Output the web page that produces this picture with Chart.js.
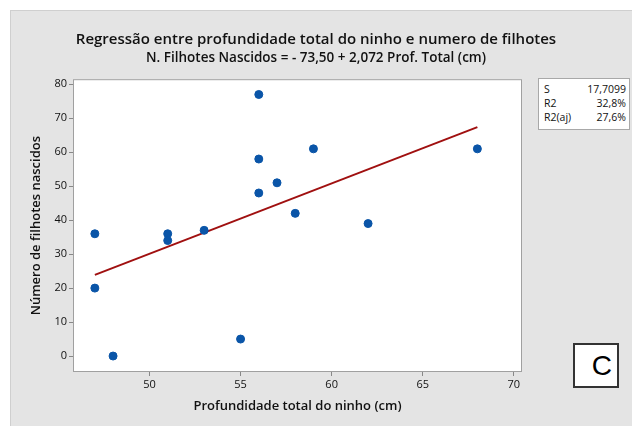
<!DOCTYPE html>
<html lang="pt">
<head>
    <meta charset="UTF-8">
    <title>Regressão profundidade x filhotes</title>
    <style>
        body {
            margin: 0;
            background: #ffffff;
            font-family: "Open Sans", "Noto Sans", sans-serif;
        }

        .panel {
            position: absolute;
            left: 10px;
            top: 10px;
            width: 622px;
            height: 416px;
            background: #e4e4e4;
            border-top: 1px solid #cfcfcf;
            border-left: 1px solid #cfcfcf;
            box-sizing: border-box;
        }

        #chart {
            position: absolute;
            left: 0;
            top: 0;
        }

        .stats {
            position: absolute;
            left: 538px;
            top: 78px;
            width: 92px;
            height: 52px;
            background: #fff;
            border: 1px solid #a8a8a8;
            box-sizing: border-box;
            font-size: 10.5px;
            color: #111;
            padding: 3px 3px 0 5px;
        }

        .stats table {
            width: 100%;
            border-collapse: collapse;
        }

        .stats td {
            padding: 0;
            line-height: 14px;
        }

        .stats td.v {
            text-align: right;
        }

        .letter {
            position: absolute;
            left: 573px;
            top: 343px;
            width: 46px;
            height: 45px;
            background: #fff;
            border: 2px solid #333;
            box-sizing: border-box;
            font-family: "Liberation Sans", Arial, sans-serif;
            font-size: 28px;
            text-align: right;
            padding-right: 5px;
            line-height: 41px;
        }
    </style>
</head>
<body>
    <div class="panel"></div>
    <canvas id="chart" width="632" height="426"></canvas>

    <div class="stats">
        <table>
            <tr><td>S</td><td class="v">17,7099</td></tr>
            <tr><td>R2</td><td class="v">32,8%</td></tr>
            <tr><td>R2(aj)</td><td class="v">27,6%</td></tr>
        </table>
    </div>
    <div class="letter">C</div>

    <script src="https://cdn.jsdelivr.net/npm/chart.js"></script>
    <script>
        // observed points
        const profundidade = [47, 47, 48, 51, 51, 53, 55, 56, 56, 56, 57, 58, 59, 62, 68];
        const filhotes = [36, 20, 0, 36, 34, 37, 5, 77, 58, 48, 51, 42, 61, 39, 61];

        // fitted line ends
        const fitX = [47, 68];
        const fitY = [23.9, 67.4];

        const xTicks = [50, 55, 60, 65, 70];
        const yTicks = [0, 10, 20, 30, 40, 50, 60, 70, 80];

        const fontFamily = '"Open Sans", "Noto Sans", sans-serif';

        // white plot area + frame
        const plotFrame = {
            id: 'plotFrame',
            beforeDatasetsDraw(chart) {
                const a = chart.chartArea;
                const ctx = chart.ctx;
                ctx.save();
                ctx.fillStyle = '#ffffff';
                ctx.fillRect(a.left, a.top, a.right - a.left, a.bottom - a.top);
                ctx.strokeStyle = '#a0a0a0';
                ctx.lineWidth = 1;
                ctx.strokeRect(a.left + 0.5, a.top + 0.5, a.right - a.left - 1, a.bottom - a.top - 1);
                ctx.restore();
            }
        };

        const ctx = document.getElementById('chart').getContext('2d');
        new Chart(ctx, {
            type: 'scatter',
            data: {
                datasets: [{
                    label: 'Ajuste',
                    type: 'line',
                    data: fitX.map((x, i) => ({ x: x, y: fitY[i] })),
                    borderColor: '#a01010',
                    borderWidth: 2,
                    pointRadius: 0,
                    fill: false,
                    order: 2
                }, {
                    label: 'Observado',
                    data: profundidade.map((x, i) => ({ x: x, y: filhotes[i] })),
                    backgroundColor: '#0a55a8',
                    borderColor: '#0a55a8',
                    pointRadius: 4,
                    order: 1
                }]
            },
            options: {
                responsive: false,
                animation: false,
                layout: {
                    padding: { top: 1, left: 0, right: 0, bottom: 0 }
                },
                plugins: {
                    legend: { display: false },
                    tooltip: { enabled: false },
                    title: {
                        display: true,
                        text: 'Regressão entre profundidade total do ninho e numero de filhotes',
                        color: '#111',
                        font: { family: fontFamily, size: 15, weight: '600' },
                        padding: { top: 30, bottom: 1 }
                    },
                    subtitle: {
                        display: true,
                        text: 'N. Filhotes Nascidos = - 73,50 + 2,072 Prof. Total (cm)',
                        color: '#111',
                        font: { family: fontFamily, size: 13.5, weight: '600' },
                        padding: { top: 0, bottom: 13 }
                    }
                },
                scales: {
                    x: {
                        type: 'linear',
                        min: 45.8,
                        max: 70.45,
                        afterBuildTicks(scale) {
                            scale.ticks = xTicks.map(v => ({ value: v }));
                        },
                        afterFit(scale) {
                            scale.height = 54;
                        },
                        ticks: {
                            color: '#111',
                            font: { family: fontFamily, size: 11 },
                            padding: 2
                        },
                        grid: {
                            drawOnChartArea: false,
                            drawTicks: true,
                            tickLength: 4,
                            color: '#888'
                        },
                        border: { display: false },
                        title: {
                            display: true,
                            text: 'Profundidade total do ninho (cm)',
                            color: '#111',
                            font: { family: fontFamily, size: 13, weight: '600' },
                            padding: { top: 3, bottom: 12 }
                        }
                    },
                    y: {
                        min: -4.7,
                        max: 81.5,
                        afterBuildTicks(scale) {
                            scale.ticks = yTicks.map(v => ({ value: v }));
                        },
                        afterFit(scale) {
                            scale.width = 73;
                        },
                        ticks: {
                            color: '#111',
                            font: { family: fontFamily, size: 11 },
                            padding: 2
                        },
                        grid: {
                            drawOnChartArea: false,
                            drawTicks: true,
                            tickLength: 4,
                            color: '#888'
                        },
                        border: { display: false },
                        title: {
                            display: true,
                            text: 'Número de filhotes nascidos',
                            color: '#111',
                            font: { family: fontFamily, size: 13, weight: '600' },
                            padding: { top: 28, bottom: 4 }
                        }
                    },
                    // empty right-hand strip that holds room for the stats box
                    side: {
                        type: 'linear',
                        position: 'right',
                        min: -4.7,
                        max: 81.5,
                        ticks: { display: false },
                        grid: { display: false },
                        border: { display: false },
                        afterFit(scale) {
                            scale.width = 110;
                        }
                    }
                }
            },
            plugins: [plotFrame]
        });
    </script>
</body>
</html>
